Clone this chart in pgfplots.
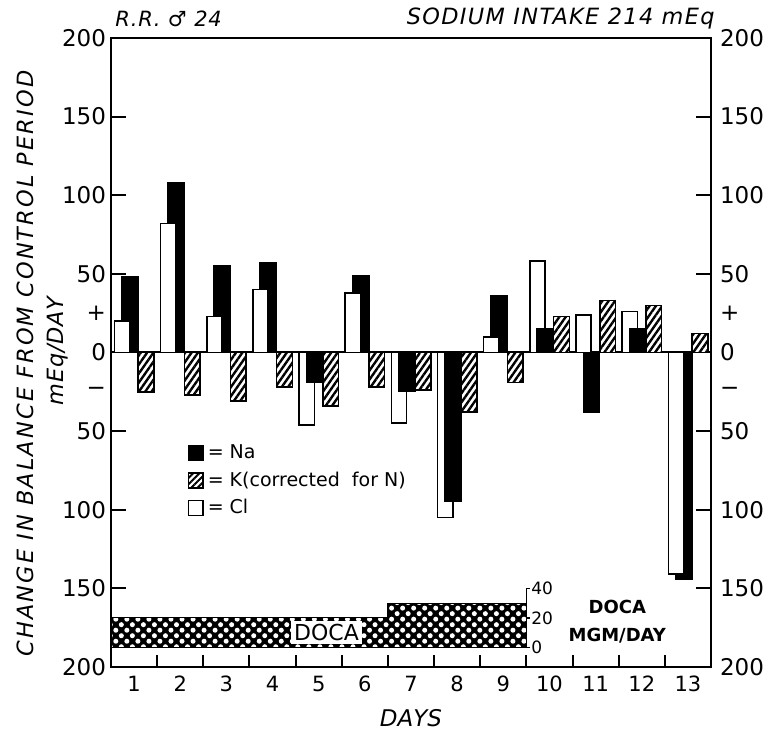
\documentclass[border=0pt]{standalone}
\usepackage{fontspec}
\setmainfont{DejaVu Sans}
\usepackage{pgfplots}
\usepackage{pgfplotstable}
\pgfplotsset{compat=1.18}
\usetikzlibrary{patterns.meta}

% Day-by-day change in balance (mEq/day)
\pgfplotstableread{
day Na Cl K
1 48 20 -25
2 108 82 -27
3 55 23 -31
4 57 40 -22
5 -19 -46 -34
6 49 38 -22
7 -25 -45 -24
8 -95 -105 -38
9 36 10 -19
10 15 58 23
11 -38 24 33
12 15 26 30
13 -144 -141 12
}\balance

\pgfplotsset{
  base/.style={scale only axis, width=300pt, height=314.5pt,
    xmin=0.5, xmax=13.5, ymin=-200, ymax=200},
  lbl/.style={base, axis x line=none, y axis line style={draw=none},
    major tick length=0pt, ytick style={draw=none},
    ytick={-200,-150,-100,-50,-25,0,25,50,100,150,200},
    yticklabels={200,150,100,50,−,0,+,50,100,150,200},
    yticklabel style={font=\fontsize{11.5}{13}\selectfont}},
}

\begin{document}
\begin{tikzpicture}
% left labels
\begin{axis}[lbl, axis y line*=left, yticklabel style={xshift=1pt}]
\end{axis}
% right labels
\begin{axis}[lbl, axis y line*=right, yticklabel style={xshift=1pt}]
\end{axis}
\begin{axis}[base, name=ax,
  axis line style={line width=1pt},
  xtick={1,...,13},
  xticklabels={1,2,3,4,5,6,7,8,9,10,11,12,13},
  major x tick style={draw=none},
  minor xtick={1.5,2.5,...,12.5},
  minor x tick style={line width=1pt, black},
  minor tick length=6pt,
  xtick pos=left,
  xticklabel style={font=\fontsize{10.5}{12}\selectfont, yshift=-1pt},
  ytick={-150,-100,-50,50,100,150},
  yticklabels={},
  ytick pos=both,
  major y tick style={line width=1pt, black},
  major tick length=7.5pt,
  clip=false,
  legend style={at={(axis cs:2.15,-56)}, anchor=north west, draw=none, fill=none,
    font=\fontsize{9.5}{11}\selectfont, row sep=1pt, inner sep=0pt,
    /tikz/every even column/.append style={column sep=3pt}},
  legend cell align=left,
  legend image code/.code={\draw[#1, line width=0.7pt] (0pt,-3.7pt) rectangle (7.4pt,3.7pt);},
]
% DOCA dose band (0 mg = -187.5, 40 mg = -150)
\addplot[forget plot, draw=black, line width=0.6pt, preaction={fill=black},
  pattern={Dots[radius=1.25pt, distance=3.9pt, angle=45]}, pattern color=white]
  coordinates {(0.5,-187.5) (0.5,-168.75) (6.5,-168.75) (6.5,-159.4) (9.5,-159.4) (9.5,-187.5) (0.5,-187.5)};

% zero line and DOCA dose scale (axis furniture)
\draw[line width=1pt] (axis cs:0.5,0) -- (axis cs:13.5,0);
\draw[line width=0.8pt] (axis cs:9.5,-187.5) -- (axis cs:9.5,-150);
\draw[line width=0.8pt] (axis cs:9.5,-187.5) -- (axis cs:9.57,-187.5);
\draw[line width=0.8pt] (axis cs:9.5,-168.75) -- (axis cs:9.57,-168.75);
\draw[line width=0.8pt] (axis cs:9.5,-150) -- (axis cs:9.57,-150);

% Na (behind)
\addplot[forget plot, ybar, bar width=0.36, bar shift=-0.09, fill=black, draw=black, line width=0.6pt]
  table[x=day, y=Na] {\balance};
% Cl
\addplot[forget plot, ybar, bar width=0.33, bar shift=-0.26, fill=white, draw=black, line width=0.8pt]
  table[x=day, y=Cl] {\balance};
% Na in front where shorter than Cl
\addplot[forget plot, ybar, bar width=0.36, bar shift=-0.09, fill=black, draw=black, line width=0.6pt]
  coordinates {(5,-19) (7,-25) (8,-95) (10,15) (12,15)};
% K
\addplot[forget plot, ybar, bar width=0.34, bar shift=0.26, draw=black, line width=0.8pt,
  preaction={fill=white}, pattern={Lines[angle=55, distance=2.6pt, line width=1.2pt]}, pattern color=black]
  table[x=day, y=K] {\balance};

\addlegendimage{fill=black}
\addlegendentry{= Na}
\addlegendimage{preaction={fill=white}, pattern={Lines[angle=45, distance=2.2pt, line width=1pt]}, pattern color=black}
\addlegendentry{= K(corrected\ \ for N)}
\addlegendimage{fill=white}
\addlegendentry{= Cl}

\node[anchor=west, inner sep=0pt, font=\fontsize{8.5}{10}\selectfont] at (axis cs:9.6,-187.5) {0};
\node[anchor=west, inner sep=0pt, font=\fontsize{8.5}{10}\selectfont] at (axis cs:9.6,-168.75) {20};
\node[anchor=west, inner sep=0pt, font=\fontsize{8.5}{10}\selectfont] at (axis cs:9.6,-150) {40};
\node[fill=white, inner sep=1.5pt, font=\fontsize{11}{12}\selectfont] at (axis cs:5.17,-178) {DOCA};
\node[font=\bfseries\fontsize{9}{10}\selectfont] at (axis cs:11.47,-162) {DOCA};
\node[font=\bfseries\fontsize{9}{10}\selectfont] at (axis cs:11.47,-180) {MGM/DAY};

% titles and axis labels
\node[anchor=base west, inner sep=0pt, font=\itshape\fontsize{10.5}{12}\selectfont\addfontfeatures{LetterSpace=4}]
  at ([xshift=2pt, yshift=5.5pt]rel axis cs:0,1) {R.R. ♂ 24};
\node[anchor=base east, inner sep=0pt, font=\itshape\fontsize{11.2}{12}\selectfont\addfontfeatures{LetterSpace=6}]
  at ([xshift=2pt, yshift=6.5pt]rel axis cs:1,1) {SODIUM INTAKE 214 mEq};
\node[font=\itshape\fontsize{11.5}{13}\selectfont] at ([yshift=-25.5pt]rel axis cs:0.5,0) {DAYS};
\node[rotate=90, inner sep=0pt, font=\itshape\fontsize{11.2}{12}\selectfont\addfontfeatures{LetterSpace=9.5}]
  at ([xshift=-43pt, yshift=-5.5pt]rel axis cs:0,0.5) {CHANGE IN BALANCE FROM CONTROL PERIOD};
\node[rotate=90, inner sep=0pt, font=\itshape\fontsize{11.2}{12}\selectfont\addfontfeatures{LetterSpace=3}]
  at ([xshift=-26.5pt, yshift=0.75pt]rel axis cs:0,0.5) {mEq/DAY};
\end{axis}

\pgfresetboundingbox
\path ([xshift=-55.5pt, yshift=-34pt]ax.south west) rectangle ([xshift=31.5pt, yshift=19pt]ax.north east);
\end{tikzpicture}
\end{document}
